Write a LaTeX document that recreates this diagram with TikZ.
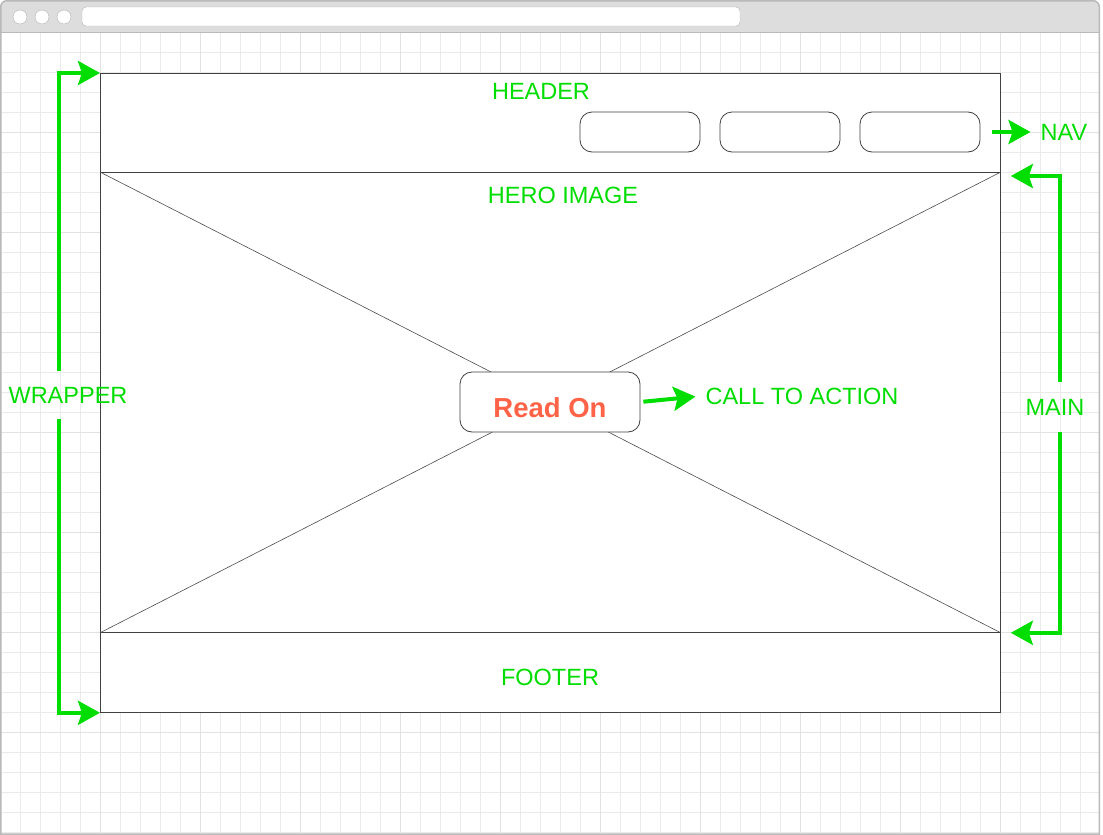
\documentclass[tikz,border=0pt]{standalone}
\usepackage{fontspec}
\setmainfont{Liberation Sans}
\usepackage{tikz}
\usetikzlibrary{arrows.meta}
\definecolor{wfgreen}{RGB}{0,221,0}
\definecolor{wforange}{RGB}{255,99,71}
\definecolor{wfgrid}{RGB}{234,234,234}
\definecolor{wfmajor}{RGB}{226,226,226}
\definecolor{wfbar}{RGB}{221,221,221}
\definecolor{wfedge}{RGB}{185,185,185}
\tikzset{gridline/.style={draw=wfgrid, line width=1pt},
majorline/.style={draw=wfmajor, line width=1pt},
wire/.style={draw=black!75, fill=white, line width=0.8pt, inner sep=0pt},
diag/.style={draw=black!70, line width=0.6pt},
navbtn/.style={wire, rounded corners=12pt, minimum width=120pt, minimum height=40pt},
tag/.style={text=wfgreen, font=\fontsize{23.5}{28}\selectfont, inner sep=4pt},
%green arrows pointing at the parts
callout/.style={draw=wfgreen, line width=4pt, -{Stealth[length=22pt,width=24pt,inset=4pt]}}}

\begin{document}
\begin{tikzpicture}[x=1pt,y=-1pt]
  \useasboundingbox (0,0) rectangle (1103,835);
  \fill[white] (0,0) rectangle (1103,835);

  % background grid
  \foreach \x in {20,40,...,1080} \draw[gridline] (\x,32) -- (\x,833);
  \foreach \y in {52,72,...,832} \draw[gridline] (0,\y) -- (1100,\y);
  \foreach \x in {100,200,...,1000} \draw[majorline] (\x,32) -- (\x,833);
  \foreach \y in {132,232,...,732} \draw[majorline] (0,\y) -- (1100,\y);

  % browser window
  \fill[wfbar] (0.75,32) [rounded corners=6pt] -- (0.75,0.75) -- (1099.25,0.75) [sharp corners] -- (1099.25,32) -- cycle;
  \draw[wfedge, line width=1pt] (0.75,32) -- (1099.25,32);
  \draw[wfedge, line width=1.5pt] (0.75,834) [rounded corners=6pt] -- (0.75,0.75) -- (1099.25,0.75) [sharp corners] -- (1099.25,834) -- cycle;
  \foreach \x in {20,42,64} \draw[fill=white, draw=black!30] (\x,17) circle (7pt);
  \draw[fill=white, draw=black!30, rounded corners=4pt] (82,7) rectangle (740,26);

  % page blocks
  \node[wire, minimum width=900pt, minimum height=99pt, anchor=north west] (header) at (100,73) {};
  \node[wire, minimum width=900pt, minimum height=460pt, anchor=north west] (hero) at (100,172) {};
  \node[wire, minimum width=900pt, minimum height=80pt, anchor=north west] (footer) at (100,632) {};
  \draw[diag] (hero.north west) -- (hero.south east);
  \draw[diag] (hero.north east) -- (hero.south west);

  \foreach \i/\x in {1/640,2/780,3/920}
    \node[navbtn] (nav\i) at (\x,132) {};

  \node[wire, rounded corners=12pt, minimum width=180pt, minimum height=60pt, text height=32pt,
        text=wforange, font=\fontsize{27.5}{32}\selectfont\bfseries] (readon) at (550,402) {Read On};

  % labels
  \node[tag] (headlbl) at (541,91) {HEADER};
  \node[tag] (herolbl) at (563,195) {HERO IMAGE};
  \node[tag] (footlbl) at (550,677) {FOOTER};
  \node[tag] (navlbl) at (1064,132) {NAV};
  \node[tag] (ctalbl) at (802,396) {CALL TO ACTION};
  \node[tag, inner ysep=16pt] (wraplbl) at (68,395) {WRAPPER};
  \node[tag, inner ysep=17pt] (mainlbl) at (1055,407) {MAIN};

  \coordinate (wrapx) at (59,0);
  \coordinate (mainx) at (1060,0);

  \draw[callout] (wraplbl.north -| wrapx) |- (header.north west);
  \draw[callout] (wraplbl.south -| wrapx) |- (footer.south west);
  \draw[callout, shorten >=10pt] (mainlbl.north -| mainx) |- ([yshift=-4pt]hero.north east);
  \draw[callout, shorten >=10pt] (mainlbl.south -| mainx) |- (hero.south east);
  \draw[callout, shorten <=12pt, shorten >=6pt] (nav3.east) -- (navlbl.west);
  \draw[callout, shorten <=3pt, shorten >=6pt] (readon.east) -- (ctalbl.west);
\end{tikzpicture}
\end{document}
